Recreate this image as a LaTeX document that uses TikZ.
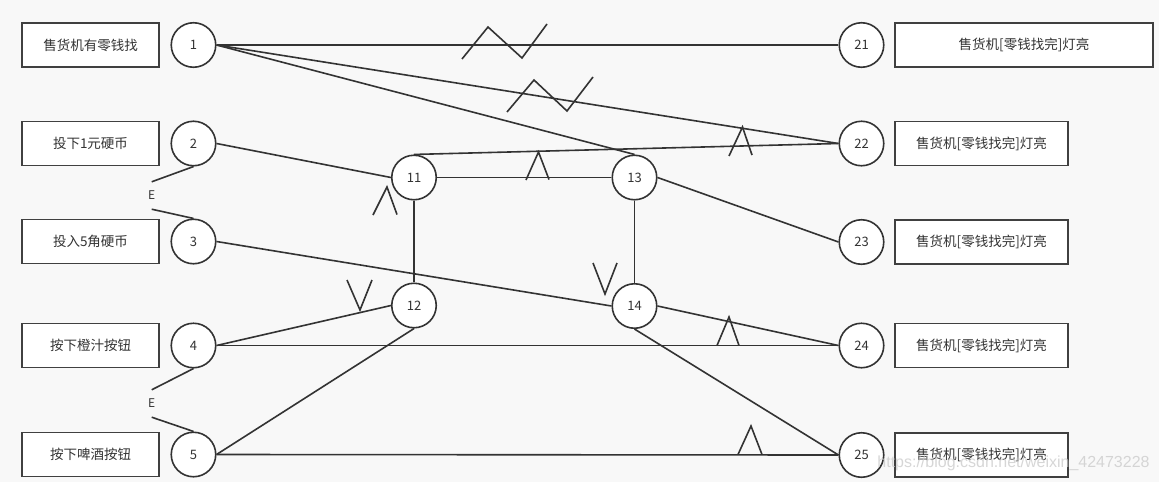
\documentclass[tikz,border=0pt]{standalone}
\usepackage{fontspec}
\setmainfont{Noto Sans CJK SC}
\newfontfamily\wmfont{Liberation Sans}
\definecolor{linec}{HTML}{333333}
\definecolor{boxc}{HTML}{404040}
\definecolor{bgc}{HTML}{F8F8F8}
\begin{document}
\begin{tikzpicture}[x=1pt,y=-1pt,
  lbl/.style={draw=boxc, fill=white, line width=1.7pt, minimum width=137pt, minimum height=44pt, inner sep=0pt, text=linec, font=\fontsize{13.5}{14}\selectfont},
  rlbl/.style={lbl, minimum width=173pt},
  circ/.style={circle, draw=linec, fill=white, line width=1.6pt, minimum size=44.5pt, inner sep=0pt, text=linec, font=\fontsize{13}{14}\selectfont},
  elbl/.style={inner sep=0pt, minimum height=27pt, text=linec, font=\fontsize{12}{13}\selectfont},
  conn/.style={draw=linec, line width=1.6pt},
  sigmark/.style={draw=linec, line width=1.6pt, line join=miter}
]
\fill[bgc] (0,0) rectangle (1159,482);
\useasboundingbox (0,0) rectangle (1159,482);

% left boxes
\node[lbl] (b1) at (90.5,45) {售货机有零钱找};
\node[lbl] (b2) at (90.5,143.5) {投下1元硬币};
\node[lbl] (b3) at (90.5,241.5) {投入5角硬币};
\node[lbl] (b4) at (90.5,345.5) {按下橙汁按钮};
\node[lbl] (b5) at (90.5,454.5) {按下啤酒按钮};

% left circles
\node[circ] (c1) at (193.5,45) {1};
\node[circ] (c2) at (193.5,143.5) {2};
\node[circ] (c3) at (193.5,241.5) {3};
\node[circ] (c4) at (193.5,345.5) {4};
\node[circ] (c5) at (193.5,454.5) {5};

% middle circles
\node[circ] (c11) at (414,177.5) {11};
\node[circ] (c12) at (414,305.5) {12};
\node[circ] (c13) at (634.5,177.5) {13};
\node[circ] (c14) at (634.5,306) {14};

% right circles
\node[circ] (c21) at (861.5,45) {21};
\node[circ] (c22) at (861.5,143.5) {22};
\node[circ] (c23) at (861.5,242) {23};
\node[circ] (c24) at (861.5,345.5) {24};
\node[circ] (c25) at (861.5,455) {25};

% right boxes
\node[lbl, minimum width=258pt] (r21) at (1024,45) {售货机[零钱找完]灯亮};
\node[rlbl] (r22) at (981.5,143.5) {售货机[零钱找完]灯亮};
\node[rlbl] (r23) at (981.5,242) {售货机[零钱找完]灯亮};
\node[rlbl] (r24) at (981.5,345.5) {售货机[零钱找完]灯亮};
\node[rlbl] (r25) at (981.5,455) {售货机[零钱找完]灯亮};

% E constraint nodes
\node[elbl] (e1) at (151.7,195.5) {E};
\node[elbl] (e2) at (151.7,403.5) {E};

% connectors
\draw[conn] (c1.east) -- (c21.west);
\draw[conn] (c1.east) -- (c22.west);
\draw[conn] (c1.east) -- (c13.north);
\draw[conn] (c2.east) -- (c11.west);
\draw[conn] (c11.north) -- (c22.west);
\draw[conn] (c11.east) -- (c13.west);
\draw[conn] (c11.south) -- (c12.north);
\draw[conn] (c3.east) -- (c14.west);
\draw[conn] (c4.east) -- (c12.west);
\draw[conn] (c4.east) -- (c24.west);
\draw[conn] (c12.south) -- (c5.east);
\draw[conn] (c5.east) -- (c25.west);
\draw[conn] (c13.south) -- (c14.north);
\draw[conn] (c13.east) -- (c23.west);
\draw[conn] (c14.east) -- (c24.west);
\draw[conn] (c14.south) -- (c25.west);
\draw[conn] (c2.south) -- (e1.north);
\draw[conn] (e1.south) -- (c3.north);
\draw[conn] (c4.south) -- (e2.north);
\draw[conn] (e2.south) -- (c5.north);

% zigzag marks
\draw[sigmark] (462,59) -- (488,27) -- (522,58) -- (547,24);
\draw[sigmark] (507,112) -- (534,80) -- (567,111) -- (593,77);

% caret / V marks
\draw[sigmark] (729,156) -- (742.5,127) -- (752,155);
\draw[sigmark] (526,180) -- (538.5,152) -- (549,179.5);
\draw[sigmark] (373,215) -- (387,187) -- (397,214.5);
\draw[sigmark] (347,280) -- (360,310) -- (372,280);
\draw[sigmark] (593,263) -- (605,294) -- (617,263);
\draw[sigmark] (717,345.5) -- (729,317) -- (739,345.5);
\draw[sigmark] (738,454.5) -- (751,426) -- (762,454.5);

% watermark
\node[text=gray!45, opacity=0.7, font=\wmfont\fontsize{16}{17}\selectfont, inner sep=0pt] (wm) at (1013.5,463) {https://blog.csdn.net/weixin\_42473228};
\end{tikzpicture}
\end{document}
